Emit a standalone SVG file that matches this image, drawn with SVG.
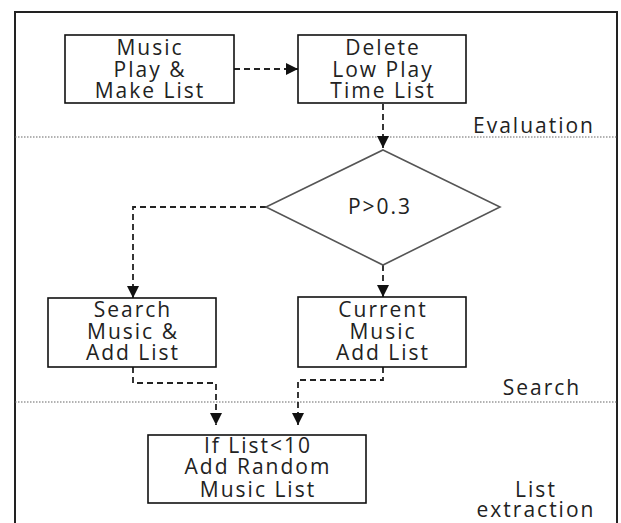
<svg xmlns="http://www.w3.org/2000/svg" width="621" height="523" viewBox="0 0 621 523">
<style>
.box{fill:#fff;stroke:#111;stroke-width:1.6}
.dia{fill:#fff;stroke:#555;stroke-width:1.6}
.t{font-family:"Open Sans","Noto Sans",sans-serif;font-size:21px;letter-spacing:2px;fill:#222;text-anchor:middle}
.c{fill:none;stroke:#222;stroke-width:1.8;stroke-dasharray:6,4}
.sep{stroke:#666;stroke-width:1.2;stroke-dasharray:1.5,1.5}
</style>
<defs>
<marker id="ah" viewBox="0 0 12 12" refX="12" refY="6" markerWidth="12" markerHeight="12" markerUnits="userSpaceOnUse" orient="auto">
<path d="M0,0 L12,6 L0,12 Z" fill="#111"/>
</marker>
</defs>
<rect width="621" height="523" fill="#fff"/>
<path d="M15,530 V12 H617 V530" fill="none" stroke="#222" stroke-width="2"/>
<line class="sep" x1="15" y1="137" x2="617" y2="137"/>
<line class="sep" x1="15" y1="402" x2="617" y2="402"/>
<g class="t" id="lanes">
<text x="534" y="133">Evaluation</text>
<text x="542" y="395">Search</text>
<text x="536" y="497">List</text>
<text x="536" y="517">extraction</text>
</g>
<g id="connectors">
<path class="c" d="M234,69 H298" marker-end="url(#ah)"/>
<path class="c" d="M383,104 V148" marker-end="url(#ah)"/>
<path class="c" d="M266,207 H133 V298" marker-end="url(#ah)"/>
<path class="c" d="M383,265 V297" marker-end="url(#ah)"/>
<path class="c" d="M133,367 V383 H216 V425" marker-end="url(#ah)"/>
<path class="c" d="M383,367 V380 H298 V425" marker-end="url(#ah)"/>
</g>
<g id="n1">
<rect class="box" x="65" y="35" width="169" height="68"/>
<text class="t" x="150" y="55">Music</text>
<text class="t" x="150" y="76.7">Play &amp;</text>
<text class="t" x="150" y="98.3">Make List</text>
</g>
<g id="n2">
<rect class="box" x="298" y="35" width="168" height="68"/>
<text class="t" x="383" y="55">Delete</text>
<text class="t" x="383" y="76.7">Low Play</text>
<text class="t" x="383" y="98.3">Time List</text>
</g>
<g id="n3">
<polygon class="dia" points="383,150 500,207 383,265 266,207"/>
<text class="t" x="380" y="214">P&gt;0.3</text>
</g>
<g id="n4">
<rect class="box" x="48" y="298" width="168" height="69"/>
<text class="t" x="133" y="317">Search</text>
<text class="t" x="133" y="338.5">Music &amp;</text>
<text class="t" x="133" y="360">Add List</text>
</g>
<g id="n5">
<rect class="box" x="298" y="297" width="168" height="70"/>
<text class="t" x="383" y="317">Current</text>
<text class="t" x="383" y="338.5">Music</text>
<text class="t" x="383" y="360">Add List</text>
</g>
<g id="n6">
<rect class="box" x="148" y="435" width="218" height="68"/>
<text class="t" x="258" y="452.5">If List&lt;10</text>
<text class="t" x="258" y="474.3">Add Random</text>
<text class="t" x="258" y="496.7">Music List</text>
</g>
</svg>
